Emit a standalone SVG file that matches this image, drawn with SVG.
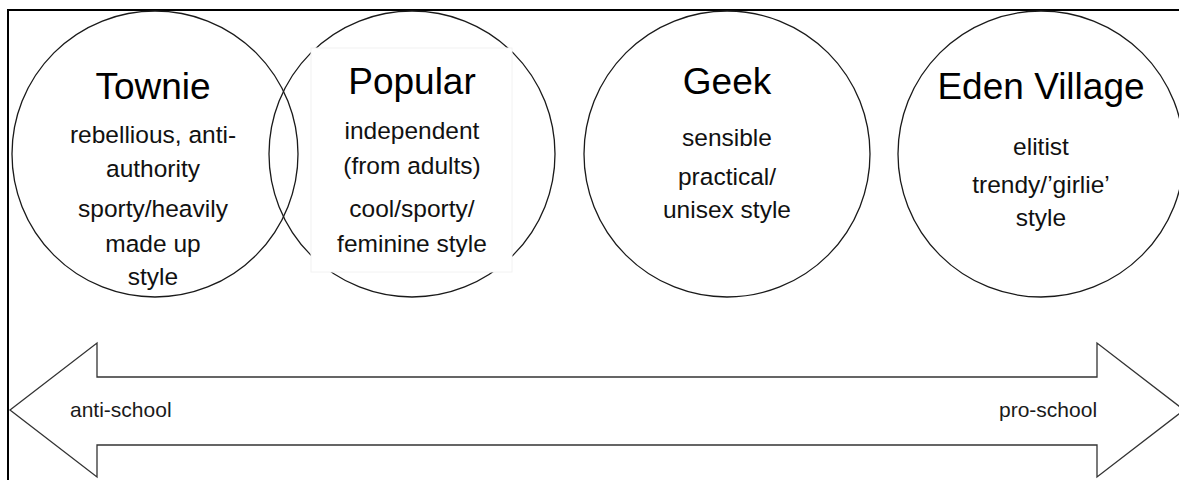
<svg xmlns="http://www.w3.org/2000/svg" width="1179" height="480" viewBox="0 0 1179 480">
  <style>
    .ring { fill: none; stroke: #1a1a1a; stroke-width: 1.3; }
    .title { font-family: "Liberation Sans", Arial, sans-serif; font-size: 37px; fill: #000; text-anchor: middle; }
    .body { font-family: "Liberation Sans", Arial, sans-serif; font-size: 24.5px; fill: #111; text-anchor: middle; }
    .axis-label { font-family: "Liberation Sans", Arial, sans-serif; font-size: 21px; fill: #1a1a1a; }
    .frame { fill: none; stroke: #000; stroke-width: 2; }
    .axis { fill: #fff; stroke: #333; stroke-width: 1.3; }
  </style>

  <rect width="1179" height="480" fill="#fff"/>
  <rect class="frame" x="8" y="10" width="1190" height="490"/>

  <!-- group circles -->
  <g id="townie">
    <circle class="ring" cx="155" cy="154" r="143"/>
    <text class="title" x="153" y="99">Townie</text>
    <text class="body" x="153" y="143">rebellious, anti-</text>
    <text class="body" x="153" y="177">authority</text>
    <text class="body" x="153" y="217">sporty/heavily</text>
    <text class="body" x="153" y="252">made up</text>
    <text class="body" x="153" y="285">style</text>
  </g>

  <g id="popular">
    <circle class="ring" cx="412" cy="154" r="143"/>
    <rect x="311" y="48" width="201" height="224" fill="#fff" stroke="#f2f2f2" stroke-width="1"/>
    <text class="title" x="412" y="94">Popular</text>
    <text class="body" x="412" y="139">independent</text>
    <text class="body" x="412" y="174">(from adults)</text>
    <text class="body" x="412" y="217">cool/sporty/</text>
    <text class="body" x="412" y="252">feminine style</text>
  </g>

  <g id="geek">
    <circle class="ring" cx="727" cy="154" r="143"/>
    <text class="title" x="727" y="94">Geek</text>
    <text class="body" x="727" y="146">sensible</text>
    <text class="body" x="727" y="185">practical/</text>
    <text class="body" x="727" y="218">unisex style</text>
  </g>

  <g id="eden-village">
    <circle class="ring" cx="1041" cy="154" r="143"/>
    <text class="title" x="1041" y="99">Eden Village</text>
    <text class="body" x="1041" y="155">elitist</text>
    <text class="body" x="1041" y="193">trendy/’girlie’</text>
    <text class="body" x="1041" y="226">style</text>
  </g>

  <!-- double-headed scale arrow -->
  <g id="connectors">
    <polygon class="axis" points="10,410 97,343 97,377 1097,377 1097,343 1184,410 1097,477 1097,445 97,445 97,477"/>
    <text class="axis-label" x="70" y="417">anti-school</text>
    <text class="axis-label" x="999" y="417">pro-school</text>
  </g>
</svg>
